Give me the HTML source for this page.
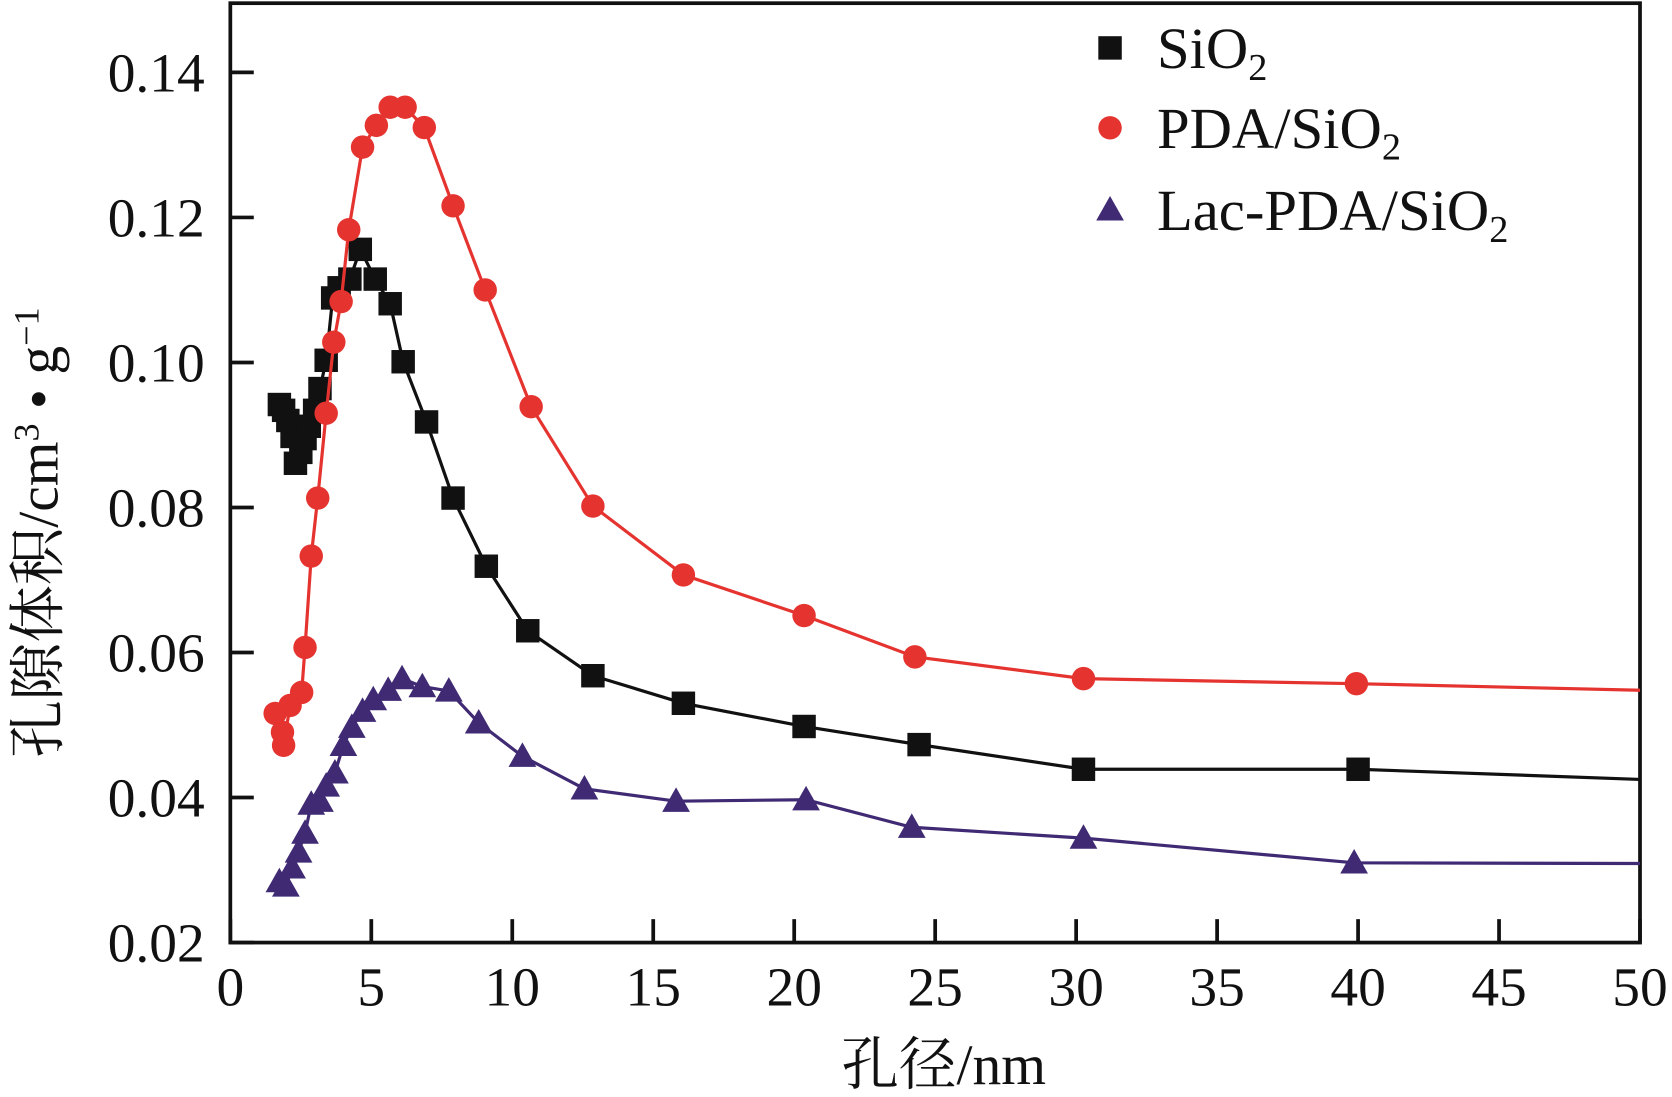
<!DOCTYPE html>
<html><head><meta charset="utf-8"><style>
html,body{margin:0;padding:0;background:#fff;}
svg{display:block;}
text{font-family:"Liberation Serif","Noto Serif CJK SC",serif;fill:#111;}
</style></head><body>
<svg id="chart" width="1672" height="1097" viewBox="0 0 1568 1030" preserveAspectRatio="none" xmlns="http://www.w3.org/2000/svg"></svg>
<script>
const xTicks=[0,5,10,15,20,25,30,35,40,45,50];
const yTicks=[0.02,0.04,0.06,0.08,0.10,0.12,0.14];
const yTickLabels=["0.02","0.04","0.06","0.08","0.10","0.12","0.14"];
const sio2X=[1.74,1.89,2.04,2.19,2.31,2.5,2.65,2.8,2.99,3.18,3.40,3.63,3.86,4.24,4.61,5.14,5.67,6.13,6.96,7.9,9.08,10.55,12.86,16.07,20.35,24.43,30.26,40.0];
const sio2Y=[0.0942,0.0934,0.092,0.0898,0.0861,0.0876,0.0895,0.0912,0.0934,0.0964,0.1003,0.1089,0.1103,0.1115,0.1156,0.1115,0.1081,0.1001,0.0918,0.0813,0.0719,0.063,0.0568,0.053,0.0498,0.0473,0.0439,0.0439];
const sio2End=[50,0.0425];
const pdaX=[1.59,1.85,1.89,2.12,2.53,2.65,2.87,3.10,3.40,3.67,3.93,4.2,4.69,5.18,5.67,6.2,6.88,7.9,9.04,10.67,12.86,16.07,20.35,24.28,30.26,39.94];
const pdaY=[0.0516,0.049,0.0472,0.0527,0.0545,0.0607,0.0733,0.0813,0.093,0.1028,0.1084,0.1183,0.1297,0.1327,0.1352,0.1352,0.1324,0.1216,0.110,0.0939,0.0802,0.0707,0.0651,0.0594,0.0564,0.0557];
const pdaEnd=[50,0.0548];
const lacX=[1.74,1.97,2.19,2.42,2.65,2.87,3.18,3.40,3.71,4.01,4.31,4.69,5.07,5.6,6.09,6.81,7.75,8.81,10.36,12.56,15.81,20.42,24.17,30.26,39.86];
const lacY=[0.0284,0.0278,0.0303,0.0325,0.0351,0.0391,0.0395,0.0416,0.0434,0.0472,0.0497,0.0519,0.0535,0.0548,0.0564,0.0553,0.0547,0.0503,0.0457,0.0412,0.0395,0.0397,0.0359,0.0344,0.031];
const lacEnd=[50,0.0309];

const L=216,R=1538,T=3,B=885;
const sx=v=>L+(v-0)/(50-0)*(R-L);
const sy=v=>B-(v-0.02)/(0.14-0.02)*(885-68);
const svg=document.getElementById('chart');
const NS='http://www.w3.org/2000/svg';
function mk(tag,attrs,parent){const e=document.createElementNS(NS,tag);for(const k in attrs)e.setAttribute(k,attrs[k]);(parent||svg).appendChild(e);return e;}

const frame=mk('rect',{x:L,y:T,width:R-L,height:B-T,fill:'none',stroke:'#111','stroke-width':3.5});



xTicks.forEach((t,i)=>{
  const tk=mk('line',{x1:sx(t),x2:sx(t),y1:B,y2:B-22,stroke:'#111','stroke-width':3.5});
  
  
  const lb=mk('text',{x:sx(t),y:944,'text-anchor':'middle','font-size':52});
  lb.textContent=String(t);
  
  
});
yTicks.forEach((t,i)=>{
  const tk=mk('line',{x1:L,x2:L+22,y1:sy(t),y2:sy(t),stroke:'#111','stroke-width':3.5});
  
  
  const lb=mk('text',{x:192,y:sy(t)+18,'text-anchor':'end','font-size':52});
  lb.textContent=yTickLabels[i];
  
  
});

const xt=mk('text',{x:885,y:1018,'text-anchor':'middle','font-size':54});
xt.textContent='孔径/nm';


const yt=mk('text',{x:0,y:0,'text-anchor':'middle','font-size':54,transform:'translate(54,500) rotate(-90)'});
yt.innerHTML='孔隙体积/cm<tspan dy="-18" font-size="34">3</tspan><tspan dy="18"> • g</tspan><tspan dy="-18" font-size="34">−1</tspan>';



function marker(kind,x,y,color,name){
  let e;
  if(kind==='sq') e=mk('rect',{x:x-11,y:y-11,width:22,height:22,fill:color});
  else if(kind==='ci') e=mk('circle',{cx:x,cy:y,r:11,fill:color});
  else e=mk('polygon',{points:`${x},${y-13} ${x+13},${y+10} ${x-13},${y+10}`,fill:color});
  
  
}
function series(xs,ys,end,color,kind,name){
  const pts=xs.map((v,i)=>sx(v)+','+sy(ys[i]));
  pts.push(sx(end[0])+','+sy(end[1]));
  const pl=mk('polyline',{points:pts.join(' '),fill:'none',stroke:color,'stroke-width':3});
  
  
  xs.forEach((v,i)=>marker(kind,sx(v),sy(ys[i]),color,name+'-point'));
}
series(lacX,lacY,lacEnd,'#3f2a73','tr','lac-pda-sio2');
series(sio2X,sio2Y,sio2End,'#111111','sq','sio2');
series(pdaX,pdaY,pdaEnd,'#e53430','ci','pda-sio2');

const leg=[['sq','#111111','SiO','','sio2'],['ci','#e53430','PDA/SiO','','pda-sio2'],['tr','#3f2a73','Lac-PDA/SiO','','lac-pda-sio2']];
const legY=[45,120,197];
leg.forEach((l,i)=>{
  marker(l[0],1041,legY[i],l[1],'legend-marker-'+l[4]);
  const t=mk('text',{x:1085,y:legY[i]+19,'font-size':55});
  t.innerHTML=l[2]+'<tspan dy="11" font-size="36">2</tspan>';
  
  
});
</script>
</body></html>
